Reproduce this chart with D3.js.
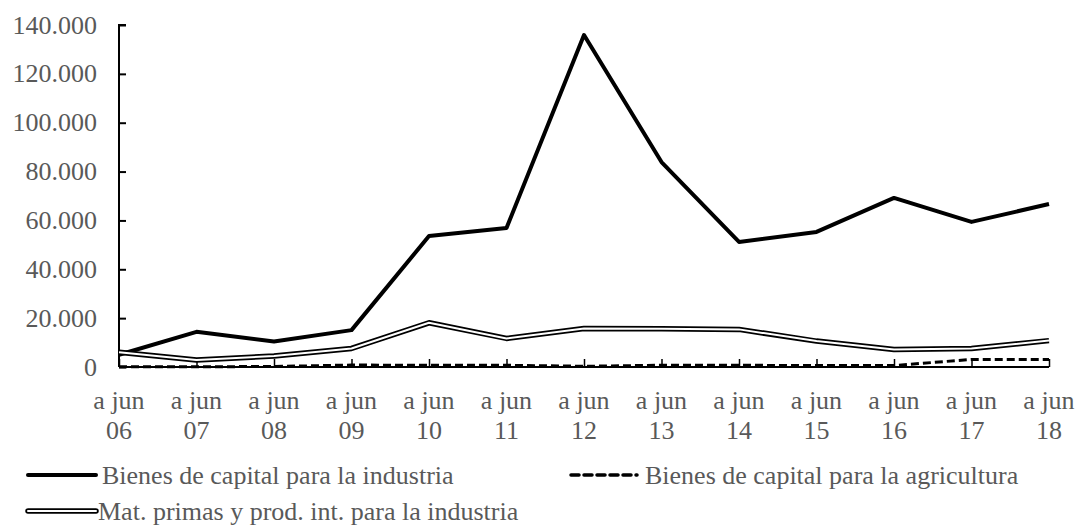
<!DOCTYPE html>
<html><head><meta charset="utf-8">
<script src="https://cdn.jsdelivr.net/npm/d3@7"></script>
<style>body{margin:0;background:#fff}svg{display:block}text{font-family:"Liberation Serif","Times New Roman",serif;fill:#595959}</style>
</head><body><svg id="c" width="1082" height="525"></svg>
<script>
const categories = ["06","07","08","09","10","11","12","13","14","15","16","17","18"];
const industria = [5000,14400,10400,15100,53600,56900,135900,83900,51200,55300,69200,59400,66700];
const agricultura = [100,100,200,800,700,700,300,700,700,600,600,3100,3100];
const matPrimas = [6000,2900,4500,7600,18100,11700,15800,15700,15400,10600,7200,7600,10800];
const yTicks = [0,20000,40000,60000,80000,100000,120000,140000];
const seriesNames = ["Bienes de capital para la industria","Bienes de capital para la agricultura","Mat. primas y prod. int. para la industria"];

const FS = 26;
const svg = d3.select("#c");
const x = d3.scalePoint().domain(categories).range([119,1049]);
const y = d3.scaleLinear().domain([0,140000]).range([367,25]);
const fmt = v => d3.format(",")(v).replace(/,/g,".");

// axes
const ya = svg.append("g").attr("transform","translate(119,0)")
  .call(d3.axisRight(y).tickValues(yTicks).tickSize(7).tickFormat(""));
ya.select(".domain").attr("stroke","#000").attr("stroke-width",2).attr("d","M7,25H0V367");
ya.selectAll(".tick line").attr("stroke","#000").attr("stroke-width",2);
svg.append("g").selectAll("text").data(yTicks).join("text")
  .attr("x",97).attr("y",d=>y(d)).attr("dy","0.33em").attr("text-anchor","end")
  .attr("font-size",FS).text(d=>fmt(d));

const xa = svg.append("g").attr("transform","translate(0,367)")
  .call(d3.axisTop(x).tickSize(8).tickFormat(""));
xa.select(".domain").attr("stroke","#000").attr("stroke-width",2).attr("d","M119,0H1049");
xa.selectAll(".tick line").attr("stroke","#000").attr("stroke-width",1.5);
const xl = svg.append("g").selectAll("text").data(categories).join("text")
  .attr("text-anchor","middle").attr("font-size",FS);
xl.append("tspan").attr("x",d=>x(d)).attr("y",409).text("a jun");
xl.append("tspan").attr("x",d=>x(d)).attr("y",439).text(d=>d);

const line = d3.line().x((d,i)=>x(categories[i])).y(d=>y(d));
const g = svg.append("g").attr("fill","none");
g.append("path").attr("d",line(industria)).attr("stroke","#000").attr("stroke-width",4).attr("stroke-linejoin","round");
g.append("path").attr("d",line(agricultura)).attr("stroke","#000").attr("stroke-width",3).attr("stroke-dasharray","8,4");
g.append("path").attr("d",line(matPrimas)).attr("stroke","#000").attr("stroke-width",5.5).attr("stroke-linejoin","round");
g.append("path").attr("d",line(matPrimas)).attr("stroke","#fff").attr("stroke-width",2).attr("stroke-linejoin","round");

// legend
const leg = svg.append("g");
const items = [
  {x1:28,x2:96,y:475,tx:102,name:seriesNames[0],type:"solid"},
  {x1:571,x2:637,y:475,tx:645,name:seriesNames[1],type:"dash"},
  {x1:28,x2:96,y:511,tx:98,name:seriesNames[2],type:"double"}
];
items.forEach(it=>{
  if(it.type==="solid"){
    leg.append("line").attr("x1",it.x1).attr("x2",it.x2).attr("y1",it.y).attr("y2",it.y).attr("stroke","#000").attr("stroke-width",4).attr("stroke-linecap","round");
  } else if(it.type==="dash"){
    leg.append("line").attr("x1",it.x1).attr("x2",it.x2).attr("y1",it.y).attr("y2",it.y).attr("stroke","#000").attr("stroke-width",3.5).attr("stroke-dasharray","8,5").attr("stroke-linecap","round");
  } else {
    leg.append("line").attr("x1",it.x1).attr("x2",it.x2).attr("y1",it.y).attr("y2",it.y).attr("stroke","#000").attr("stroke-width",5.5).attr("stroke-linecap","round");
    leg.append("line").attr("x1",it.x1).attr("x2",it.x2).attr("y1",it.y).attr("y2",it.y).attr("stroke","#fff").attr("stroke-width",2).attr("stroke-linecap","round");
  }
  leg.append("text").attr("x",it.tx).attr("y",it.y).attr("dy","0.35em").attr("font-size",FS).text(it.name);
});
</script></body></html>
